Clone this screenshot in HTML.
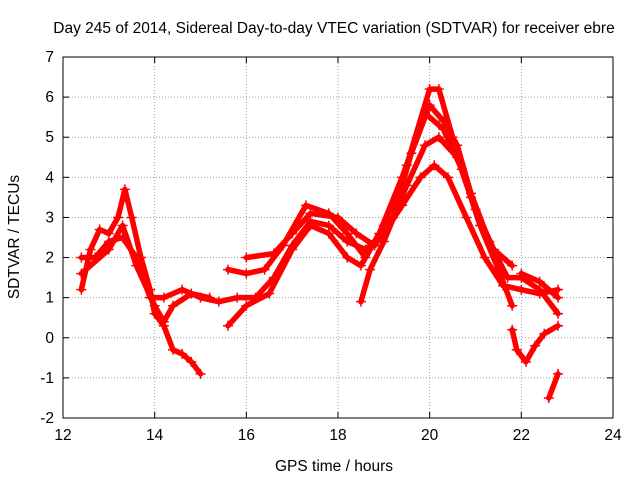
<!DOCTYPE html>
<html><head><meta charset="utf-8"><style>
body{margin:0;background:#fff}
svg{display:block;font-family:"Liberation Sans",sans-serif}
</style></head><body>
<svg id="chart" width="640" height="480" viewBox="0 0 640 480">
<rect width="640" height="480" fill="#fff"/>
<text x="334" y="33" font-size="15.5" text-anchor="middle">Day 245 of 2014, Sidereal Day-to-day VTEC variation (SDTVAR) for receiver ebre</text>
<text x="334" y="471" font-size="15.5" text-anchor="middle">GPS time / hours</text>
<text transform="translate(19,237) rotate(-90)" font-size="15.5" text-anchor="middle">SDTVAR / TECUs</text>
<g id="grid"></g>
<g id="axes"></g>
<g id="series"></g>
<rect x="63" y="57" width="550" height="361" fill="none" stroke="#000" stroke-width="1"/>
</svg>
<script>
const xTicks=[12,14,16,18,20,22,24];
const yTicks=[-2,-1,0,1,2,3,4,5,6,7];
const seriesA=[[12.4,1.2],[12.6,2.2],[12.8,2.7],[13.0,2.6],[13.2,3.0],[13.35,3.7],[13.5,3.0],[13.7,2.0],[13.9,1.2],[14.0,0.6],[14.2,0.3],[14.4,-0.3],[14.6,-0.4],[14.8,-0.6],[15.0,-0.9]];
const seriesB=[[12.4,2.0],[12.7,2.0],[13.0,2.4],[13.3,2.5],[13.6,2.0],[13.9,1.0],[14.2,1.0],[14.6,1.2],[15.0,1.0],[15.4,0.9],[15.8,1.0],[16.2,1.0],[16.6,1.5],[17.0,2.3],[17.4,2.9],[17.8,2.8],[18.2,2.4],[18.6,2.2],[19.0,2.6],[19.4,3.3],[19.8,4.0],[20.1,4.3],[20.4,4.0],[20.8,3.0],[21.2,2.0],[21.6,1.3],[22.0,1.2],[22.4,1.1],[22.8,1.2]];
const seriesC=[[12.4,1.6],[13.0,2.2],[13.3,2.8],[13.6,1.8],[14.0,0.8],[14.2,0.4],[14.4,0.8],[14.8,1.1],[15.2,1.0]];
const seriesD=[[15.6,1.7],[16.0,1.6],[16.4,1.7],[16.8,2.3],[17.3,3.3],[17.8,3.1],[18.2,2.6],[18.6,2.0],[19.0,2.8],[19.5,4.3],[20.0,6.2],[20.2,6.2],[20.5,5.0],[20.9,3.6],[21.3,2.4],[21.7,1.5],[22.0,1.5],[22.4,1.2],[22.8,0.6]];
const seriesE=[[15.6,0.3],[16.0,0.8],[16.5,1.1],[17.0,2.2],[17.4,2.8],[17.8,2.6],[18.2,2.0],[18.5,1.8],[18.9,2.6],[19.4,4.0],[19.9,5.6],[20.3,5.2],[20.7,4.2],[21.1,2.8],[21.5,1.7],[21.8,0.8]];
const seriesF=[[16.0,2.0],[16.6,2.1],[17.0,2.6],[17.4,3.1],[18.0,3.0],[18.4,2.6],[18.8,2.3],[19.2,3.0],[19.6,4.6],[20.0,5.8],[20.3,5.4],[20.6,4.8],[21.0,3.2],[21.4,2.2],[21.8,1.8]];
const seriesG=[[18.5,0.9],[18.7,1.7],[19.0,2.4],[19.5,3.8],[19.9,4.8],[20.2,5.0],[20.6,4.5],[20.9,3.5]];
const seriesH=[[21.8,0.2],[21.9,-0.3],[22.1,-0.6],[22.3,-0.2],[22.5,0.1],[22.8,0.3]];
const seriesI=[[22.6,-1.5],[22.8,-0.9]];
const seriesJ=[[22.0,1.6],[22.4,1.4],[22.8,1.0]];
const allSeries=[seriesA,seriesB,seriesC,seriesD,seriesE,seriesF,seriesG,seriesH,seriesI,seriesJ];

const X0=63,X1=613,Y0=418,Y1=57;
function sx(v){return X0+(v-12)/(24-12)*(X1-X0);}
function sy(v){return Y0-(v+2)/(7+2)*(Y0-Y1);}
const NS="http://www.w3.org/2000/svg";
function mk(tag,attrs,parent){const e=document.createElementNS(NS,tag);for(const k in attrs)e.setAttribute(k,attrs[k]);parent.appendChild(e);return e;}
const grid=document.getElementById('grid'),axes=document.getElementById('axes'),ser=document.getElementById('series');
xTicks.forEach(t=>{
  const x=sx(t);
  if(t>12&&t<24){const g=mk('line',{x1:x,x2:x,y1:Y1,y2:Y0,stroke:'#a0a0a0','stroke-dasharray':'1,2'},grid);
  
  }
  const a=mk('line',{x1:x,x2:x,y1:Y0,y2:Y0-6,stroke:'#000'},axes);
  
  
  const b=mk('line',{x1:x,x2:x,y1:Y1,y2:Y1+6,stroke:'#000'},axes);
  
  
  const l=mk('text',{x:x,y:Y0+22,'font-size':15.5,'text-anchor':'middle'},axes);l.textContent=t;
  
  
});
yTicks.forEach(t=>{
  const y=sy(t);
  if(t>-2&&t<7){const g=mk('line',{x1:X0,x2:X1,y1:y,y2:y,stroke:'#a0a0a0','stroke-dasharray':'1,2'},grid);
  
  }
  const a=mk('line',{x1:X0,x2:X0+6,y1:y,y2:y,stroke:'#000'},axes);
  
  
  const b=mk('line',{x1:X1,x2:X1-6,y1:y,y2:y,stroke:'#000'},axes);
  
  
  const l=mk('text',{x:X0-9,y:y+5,'font-size':15.5,'text-anchor':'end'},axes);l.textContent=t;
  
  
});
allSeries.forEach((s,i)=>{
  const pl=mk('polyline',{points:s.map(p=>sx(p[0])+','+sy(p[1])).join(' '),fill:'none',stroke:'#ff0000','stroke-width':5.5,'stroke-linejoin':'round','stroke-linecap':'round'},ser);
  
  
  s.forEach(p=>{
    const x=sx(p[0]),y=sy(p[1]);
    const m=mk('path',{d:`M${x-5},${y}H${x+5}M${x},${y-5}V${y+5}`,stroke:'#ff0000','stroke-width':1.5},ser);
    
    
  });
});
</script>
</body></html>
